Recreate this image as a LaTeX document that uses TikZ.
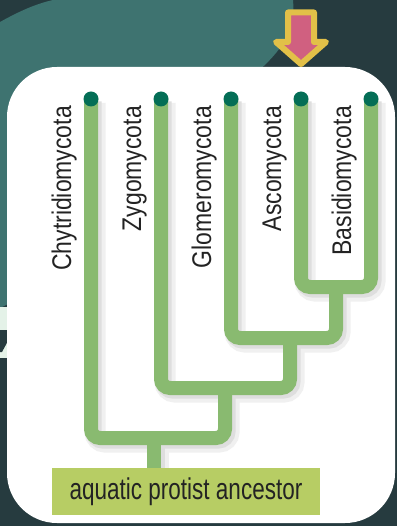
\documentclass[tikz,border=0pt]{standalone}
\usepackage{fontspec}
\setmainfont{Liberation Sans}
\newfontfamily\taxonfont[FakeStretch=0.85]{Liberation Sans}
\newfontfamily\rootfont[FakeStretch=0.75]{Liberation Sans}

\definecolor{bgdark}{RGB}{38,59,63}
\definecolor{bgteal}{RGB}{62,115,112}
\definecolor{bgpale}{RGB}{228,242,232}
\definecolor{treegreen}{RGB}{137,186,112}
\definecolor{tipgreen}{RGB}{4,110,86}
\definecolor{boxgreen}{RGB}{183,205,100}
\definecolor{inkgray}{RGB}{35,35,35}
\definecolor{markerpink}{RGB}{208,96,128}
\definecolor{markergold}{RGB}{226,192,72}

\tikzset{
    branch/.style={
           draw=treegreen, line width=14pt,
           rounded corners=9pt,
           },
    softshade/.style={
           draw=black!6, line width=21pt,
           rounded corners=10pt,
           },
    shade/.style={
           draw=black!13, line width=16pt,
           rounded corners=9pt,
           },
    tip/.style={
           circle, fill=tipgreen,
           minimum size=15pt, inner sep=0pt,
           },
    taxon/.style={
           rotate=90, anchor=base east,
           inner sep=0pt, text=inkgray,
           font=\taxonfont\fontsize{27}{32}\selectfont,
           },
    ancestor/.style={
           rectangle, fill=boxgreen,
           minimum width=268pt, minimum height=47pt,
           inner sep=0pt, text=inkgray,
           font=\rootfont\fontsize{30}{34}\selectfont,
           },
    marker/.style={
           fill=markerpink, draw=markergold,
           line width=6pt, line join=round,
           },
}

% the four U-shaped splits of the tree
\newcommand{\fungitree}[1]{%
       \draw[#1] (asc) -- (asc |- ab) -- (bas |- ab) -- (bas) ;
       \draw[#1] (glo) -- (glo |- gab) -- (ab |- gab) -- (ab) ;
       \draw[#1] (zyg) -- (zyg |- zgab) -- (gab |- zgab) -- (gab) ;
       \draw[#1] (chy) -- (chy |- root) -- (zgab |- root) -- (zgab) ;
       \draw[#1] (root) -- (root |- anc.north) ;
}

\begin{document}
\begin{tikzpicture}[x=1pt,y=-1pt]

       \useasboundingbox (0,0) rectangle (397,526) ;

       % backdrop
       \fill[bgdark] (0,0) rectangle (397,526) ;
       \fill[bgteal] (0,22) .. controls (18,12) and (35,4) .. (53,0) -- (293,0)
              .. controls (296,30) and (282,52) .. (250,78) -- (120,250) -- (0,308) -- cycle ;
       \fill[bgpale] (0,307) rectangle (9,358) ;
       \fill[bgdark] (0,330) -- (9,330) -- (9,339) -- (2,352) -- (0,352) -- cycle ;
       \fill[white, rounded corners=50pt] (7,67) rectangle (395,523) ;

       % marker above Ascomycota
       \draw[marker] (288,12.5) -- (314,12.5) -- (314,42) -- (326,42) -- (301,64)
              -- (276,42) -- (288,42) -- cycle ;

       \coordinate (chy) at (91,99) ;
       \coordinate (zyg) at (161,99) ;
       \coordinate (glo) at (231,99) ;
       \coordinate (asc) at (301,99) ;
       \coordinate (bas) at (371,99) ;

       \coordinate (ab) at (336,287) ;
       \coordinate (gab) at (290,338) ;
       \coordinate (zgab) at (225,388) ;
       \coordinate (root) at (154,438) ;

       \node[ancestor] (anc) at (186,491.5) {} ;

       \begin{scope}[transform canvas={xshift=4pt,yshift=-4pt}]
              \fungitree{softshade}
       \end{scope}
       \begin{scope}[transform canvas={xshift=2.5pt,yshift=-2.5pt}]
              \fungitree{shade}
       \end{scope}
       \fungitree{branch}

       \node[ancestor] (ancbox) at (anc) {aquatic protist ancestor} ;

       \node[tip] (chydot) at (chy) {} ;
       \node[tip] (zygdot) at (zyg) {} ;
       \node[tip] (glodot) at (glo) {} ;
       \node[tip] (ascdot) at (asc) {} ;
       \node[tip] (basdot) at (bas) {} ;

       \node[taxon] (chylbl) at ([xshift=-20pt,yshift=-7pt]chy) {Chytridiomycota} ;
       \node[taxon] (zyglbl) at ([xshift=-20pt,yshift=-7pt]zyg) {Zygomycota} ;
       \node[taxon] (glolbl) at ([xshift=-20pt,yshift=-7pt]glo) {Glomeromycota} ;
       \node[taxon] (asclbl) at ([xshift=-20pt,yshift=-7pt]asc) {Ascomycota} ;
       \node[taxon] (baslbl) at ([xshift=-20pt,yshift=-7pt]bas) {Basidiomycota} ;

\end{tikzpicture}
\end{document}
